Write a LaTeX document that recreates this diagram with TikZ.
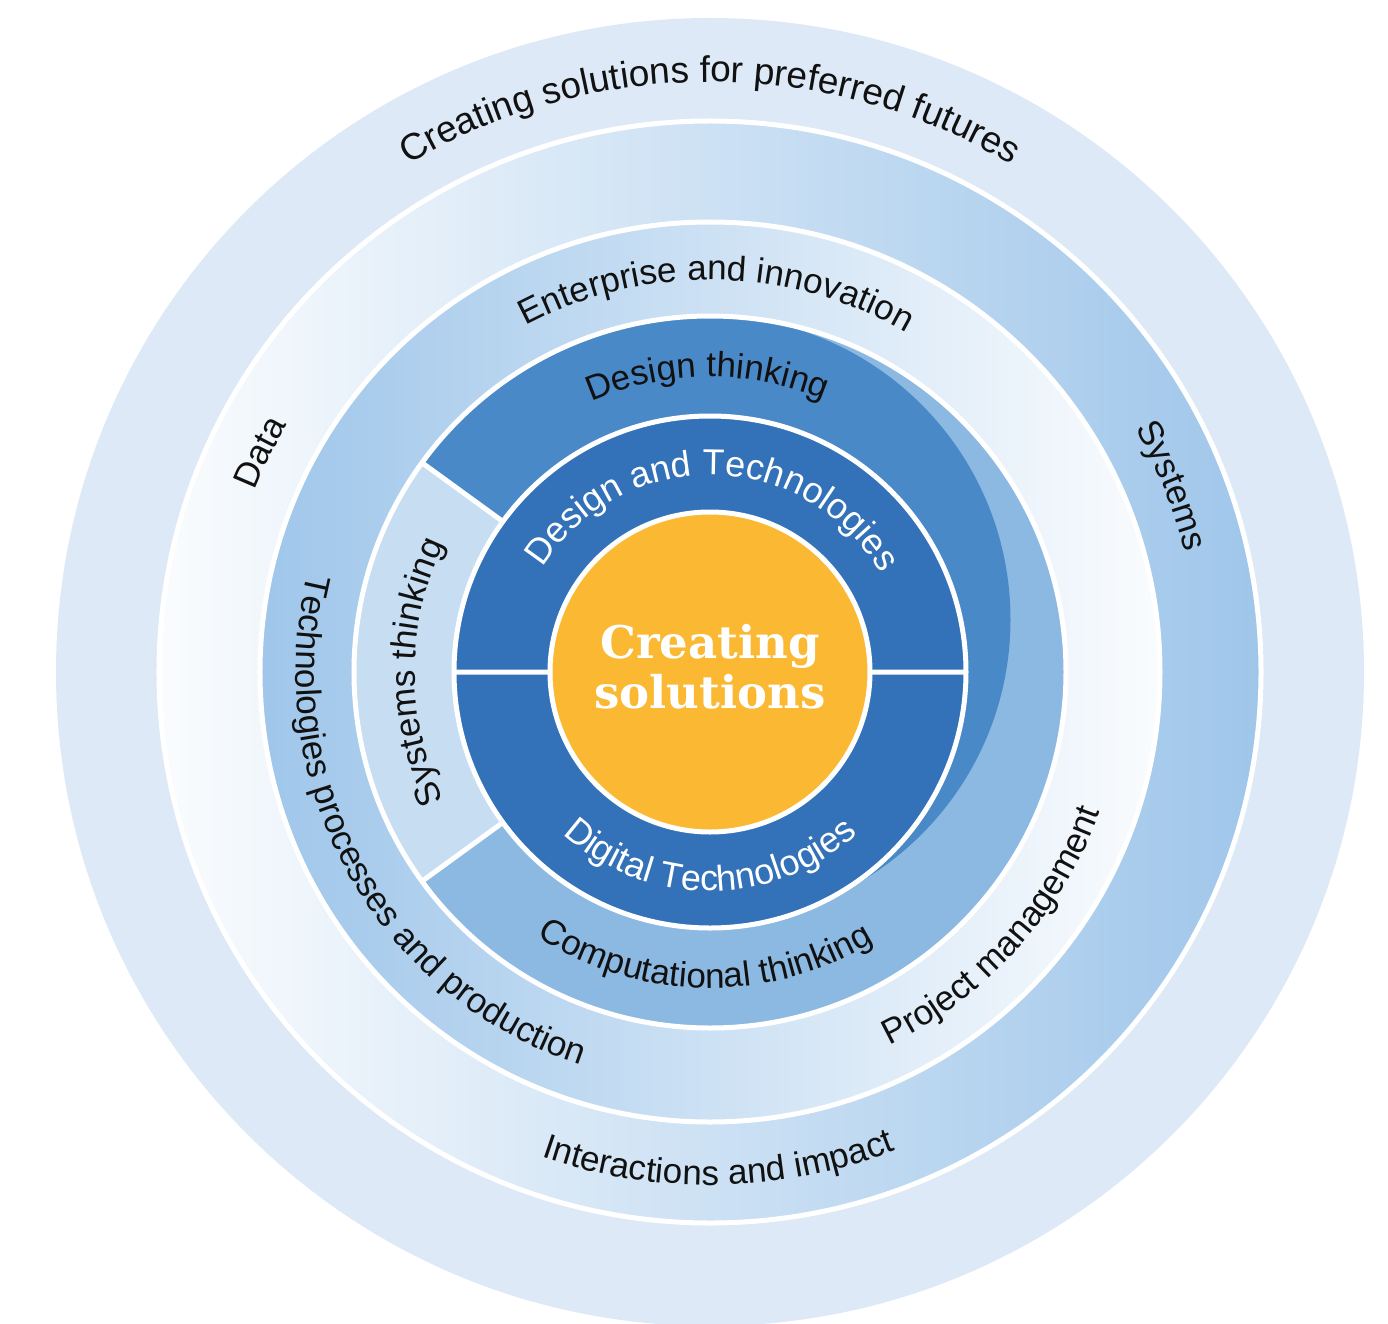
\documentclass[tikz,border=0pt]{standalone}
\usepackage{fontspec}
\setmainfont{Liberation Sans}
\newfontfamily\slabfont{DejaVu Serif}
\usetikzlibrary{decorations.text}

\definecolor{ringfive}{HTML}{DDE9F6}
\definecolor{ringblue}{HTML}{9FC6EA}
\definecolor{ringwhite}{HTML}{FAFCFE}
\definecolor{designth}{HTML}{4A89C8}
\definecolor{computth}{HTML}{8CB9E2}
\definecolor{systemsth}{HTML}{C6DDF2}
\definecolor{darkring}{HTML}{3371B8}
\definecolor{coreyellow}{HTML}{FBB833}
\definecolor{labelink}{HTML}{111111}

\newcommand{\ringfont}{\fontsize{35}{35}\selectfont}
\newcommand{\outerfont}{\fontsize{37}{37}\selectfont}
\newcommand{\innerfont}{\fontsize{36}{36}\selectfont}

% clockwise label (letters facing outward)
\newcommand{\cwlabel}[5]{%
  \path[decorate, decoration={text along path, text align=center, text color=#3, text={|#4|#5}}]
    ({#1+90}:#2) arc[start angle={#1+90}, end angle={#1-90}, radius=#2];}
% counter-clockwise label (letters facing the centre)
\newcommand{\ccwlabel}[5]{%
  \path[decorate, decoration={text along path, text align=center, text color=#3, text={|#4|#5}}]
    ({#1-90}:#2) arc[start angle={#1-90}, end angle={#1+90}, radius=#2];}

\begin{document}
\begin{tikzpicture}[x=1pt,y=1pt,
  gapline/.style={draw=white, line width=5pt},
  divider/.style={draw=white, line width=5pt},
  coretext/.style={font={\slabfont\bfseries\fontsize{45}{45}\selectfont}, text=white, anchor=base, inner sep=0pt}]
\useasboundingbox (-710,-651) rectangle (678,672);
\coordinate (O) at (0,0);

% rings
\fill[ringfive] (O) circle[radius=654];
\shade[left color=ringwhite, right color=ringblue] (O) circle[radius=551];
\shade[left color=ringblue, right color=ringwhite] (O) circle[radius=450];
\fill[computth] (O) circle[radius=356];
\begin{scope}
  \clip (O) circle[radius=356];
  \clip (0,0) -- (-90:800) -- (0:800) -- (90:800) -- (144:800) -- cycle;
  \fill[designth] (-3.5,52.5) circle[radius=304];
  \fill[designth] (0,0) -- (84:800) -- (144:800) -- cycle;
\end{scope}
\fill[systemsth] (144:356) arc[start angle=144,end angle=216,radius=356]
  -- (216:256) arc[start angle=216,end angle=144,radius=256] -- cycle;
\fill[darkring] (O) circle[radius=256];
\fill[coreyellow] (O) circle[radius=160];

% white gaps
\draw[gapline] (O) circle[radius=551] (O) circle[radius=450] (O) circle[radius=356]
  (O) circle[radius=256] (O) circle[radius=160];
\draw[divider] (144:256) -- (144:356) (216:256) -- (216:356)
  (0:160) -- (0:256) (180:160) -- (180:256);

% labels
\cwlabel{90}{590}{labelink}{\outerfont}{Creating solutions for preferred futures}
\cwlabel{154}{490}{labelink}{\ringfont}{Data}
\cwlabel{22}{490}{labelink}{\ringfont}{Systems}
\ccwlabel{-89}{513}{labelink}{\ringfont}{Interactions and impact}
\cwlabel{89}{392}{labelink}{\ringfont}{Enterprise and innovation}
\ccwlabel{209}{414}{labelink}{\ringfont}{Technologies processes and production}
\ccwlabel{-42}{414}{labelink}{\ringfont}{Project management}
\cwlabel{90.5}{295}{labelink}{\ringfont}{Design thinking}
\cwlabel{180}{295}{labelink}{\ringfont}{Systems thinking}
\ccwlabel{-91}{316}{labelink}{\ringfont}{Computational thinking}
\cwlabel{89}{197}{white}{\innerfont}{Design and Technologies}
\ccwlabel{-90}{219}{white}{\innerfont}{Digital Technologies}

\node[coretext] (coreA) at (0,14) {Creating};
\node[coretext] (coreB) at (0,-36) {solutions};
\end{tikzpicture}
\end{document}
